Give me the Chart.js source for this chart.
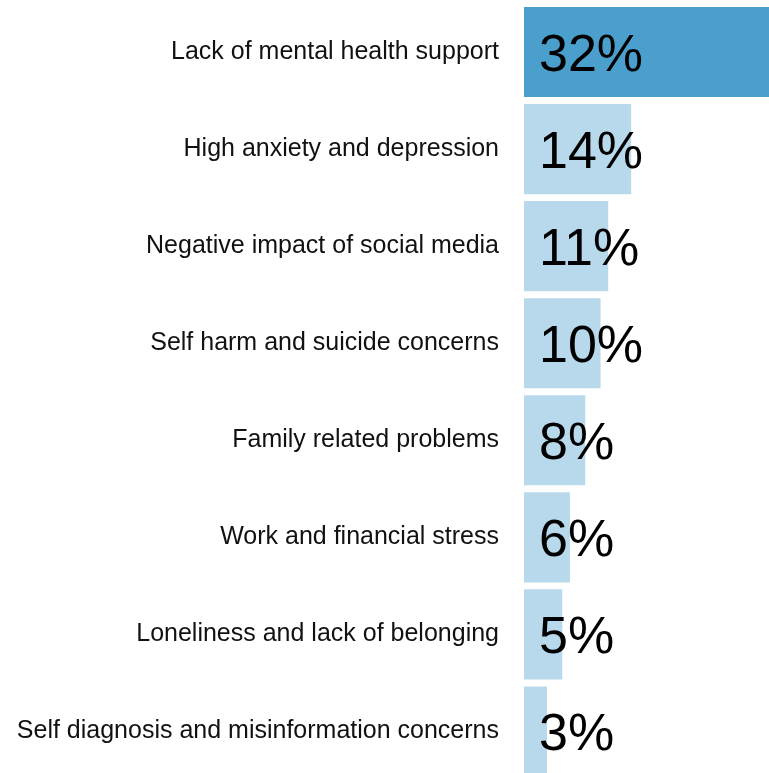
<!DOCTYPE html>
<html>
<head>
<meta charset="utf-8">
<script src="https://cdn.jsdelivr.net/npm/chart.js@4"></script>
<style>
  html, body { margin: 0; padding: 0; background: #fff; overflow: hidden; }
  #wrap { position: relative; width: 769px; height: 780px; }
</style>
</head>
<body>
<div id="wrap"><canvas id="chart"></canvas></div>
<script>
const concerns = [
  'Lack of mental health support',
  'High anxiety and depression',
  'Negative impact of social media',
  'Self harm and suicide concerns',
  'Family related problems',
  'Work and financial stress',
  'Loneliness and lack of belonging',
  'Self diagnosis and misinformation concerns'
];
const shares = [32, 14, 11, 10, 8, 6, 5, 3];

const barColors = shares.map((v, i) => i === 0 ? '#4a9fcd' : '#b8d9ec');

// percentage text drawn just inside the start of each bar
const valueLabels = {
  id: 'valueLabels',
  afterDatasetsDraw(chart) {
    const ctx = chart.ctx;
    const meta = chart.getDatasetMeta(0);
    ctx.save();
    ctx.fillStyle = '#000';
    ctx.font = '52px "Liberation Sans", Arial, sans-serif';
    ctx.textAlign = 'left';
    ctx.textBaseline = 'alphabetic';
    meta.data.forEach((bar, i) => {
      ctx.fillText(shares[i] + '%', bar.base + 15, bar.y + 19);
    });
    ctx.restore();
  }
};

new Chart(document.getElementById('chart'), {
  type: 'bar',
  data: {
    labels: concerns,
    datasets: [{
      data: shares,
      backgroundColor: barColors,
      borderWidth: 0,
      barPercentage: 0.928,
      categoryPercentage: 1
    }]
  },
  options: {
    indexAxis: 'y',
    responsive: true,
    maintainAspectRatio: false,
    animation: false,
    layout: { padding: { top: 3.5, bottom: 0, left: 0, right: 0 } },
    plugins: {
      legend: { display: false },
      tooltip: { enabled: false }
    },
    scales: {
      x: { min: 0, max: 32, display: false },
      y: {
        grid: { display: false },
        border: { display: false },
        afterFit(scale) {
          scale.width = 524;
          scale.paddingTop = 0;
          scale.paddingBottom = 0;
        },
        ticks: {
          color: '#111',
          padding: 17,
          font: { family: '"Liberation Sans", Arial, sans-serif', size: 25 }
        }
      }
    }
  },
  plugins: [valueLabels]
});
</script>
</body>
</html>
